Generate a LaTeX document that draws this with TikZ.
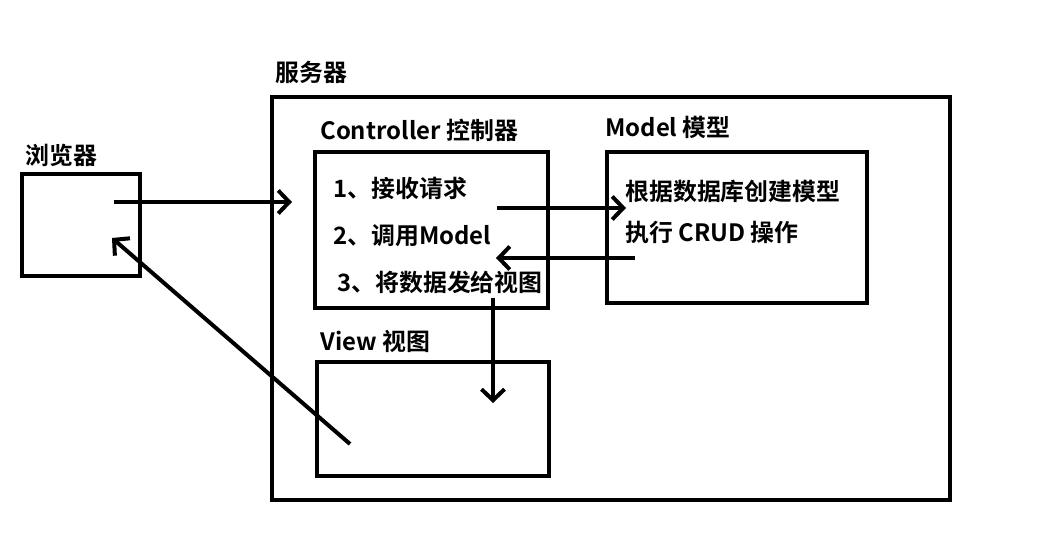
\documentclass[tikz,border=0pt]{standalone}
\usepackage{fontspec}
\setmainfont{Noto Sans CJK SC}[BoldFont={Noto Sans CJK SC Bold}]
\usetikzlibrary{arrows.meta,positioning}

\begin{document}
\begin{tikzpicture}[x=0.02cm,y=-0.02cm,
  box/.style={draw,line width=0.08cm,inner sep=0pt},
  lbl/.style={font=\fontsize{13.6}{16}\selectfont\bfseries,anchor=west,inner sep=0pt},
  flow/.style={line width=0.08cm,-{Straight Barb[length=0.22cm,width=0.46cm]}}]
  \useasboundingbox (0,0) rectangle (1046,536);

  % boxes
  \node[box,minimum width=2.36cm,minimum height=2.04cm] (browser) at (81,225) {};
  \node[box,minimum width=13.56cm,minimum height=8.06cm] (server) at (611,298.5) {};
  \node[box,minimum width=4.66cm,minimum height=3.12cm] (ctrl) at (431.5,230) {};
  \node[box,minimum width=5.2cm,minimum height=3.02cm] (model) at (737,227.5) {};
  \node[box,minimum width=4.64cm,minimum height=2.28cm] (view) at (433,419) {};

  % titles
  \node[lbl] (browserlbl) at (25,155) {浏览器};
  \node[lbl] (serverlbl) at (275,72) {服务器};
  \node[lbl] (ctrllbl) at (320,130) {Controller 控制器};
  \node[lbl] (modellbl) at (605,127) {Model 模型};
  \node[lbl] (viewlbl) at (320,341) {View 视图};

  % steps
  \node[lbl] (recv) at (333,188) {1、接收请求};
  \node[lbl] (call) at (333,236) {2、调用Model};
  \node[lbl] (send) at (337,282) {3、将数据发给视图};
  \node[lbl] (build) at (625,191) {根据数据库创建模型};
  \node[lbl] (crud) at (625,232) {执行 CRUD 操作};

  \coordinate (reqout) at (114,202);
  \coordinate (reqin) at (292,202);
  \coordinate (callout) at (497,208);
  \coordinate (callin) at (626,208);
  \coordinate (retout) at (635,258);
  \coordinate (retin) at (496,258);
  \coordinate (viewout) at (493,298);
  \coordinate (viewin) at (493,403);
  \coordinate (respout) at (350,444);
  \coordinate (respin) at (112,238);

  \draw[flow] (reqout) -- (reqin);
  \draw[flow] (callout) -- (callin);
  \draw[flow] (retout) -- (retin);
  \draw[flow] (viewout) -- (viewin);
  \draw[flow] (respout) -- (respin);
\end{tikzpicture}
\end{document}
